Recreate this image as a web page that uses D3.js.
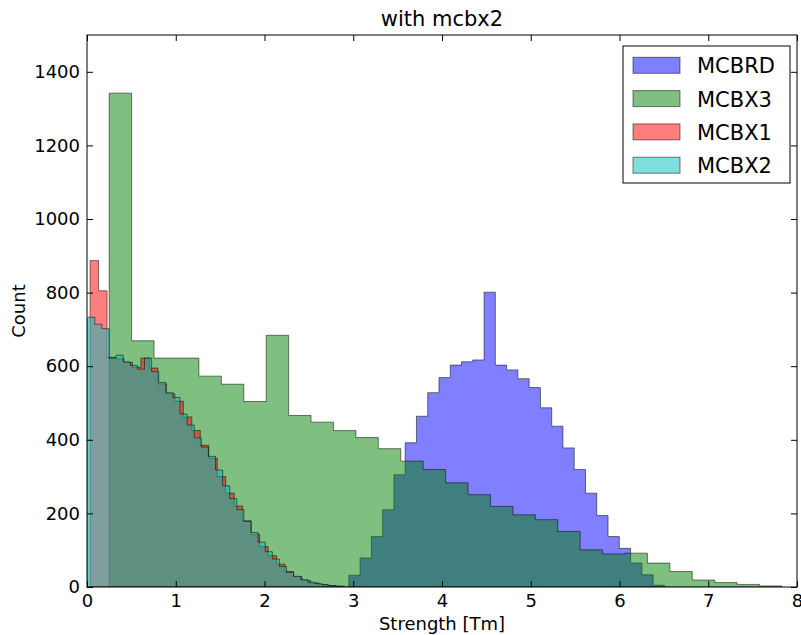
<!DOCTYPE html>
<html>
<head>
<meta charset="utf-8">
<script src="https://cdn.jsdelivr.net/npm/d3@7"></script>
<style>
  html, body { margin: 0; padding: 0; background: #fff; }
  svg { display: block; font-family: "DejaVu Sans", sans-serif; }
</style>
</head>
<body>
<svg id="chart" width="801" height="635"></svg>
<script>
// ---- data ----
const title = "with mcbx2";
const xLabel = "Strength [Tm]";
const yLabel = "Count";
const xTicks = [0, 1, 2, 3, 4, 5, 6, 7, 8];
const yTicks = [0, 200, 400, 600, 800, 1000, 1200, 1400];

const seriesNames = ["MCBRD", "MCBX3", "MCBX1", "MCBX2"];

// MCBRD
const mcbrdStart = 2.95, mcbrdWidth = 0.127;
const mcbrdCounts = [32, 79, 137, 210, 305, 392, 464, 528, 569, 603, 612, 617, 801, 603,
  590, 566, 542, 487, 437, 378, 319, 255, 194, 137, 105, 65, 33, 5];

// MCBX3
const mcbx3Start = 0.25, mcbx3Width = 0.2527;
const mcbx3Counts = [1342, 669, 622, 622, 573, 551, 504, 684, 466, 448, 425, 406, 376, 342,
  319, 283, 251, 219, 196, 183, 151, 101, 90, 92, 65, 42, 19, 12, 7, 3];

// MCBX1
const mcbx1Start = 0.035, mcbx1Width = 0.0955;
const mcbx1Counts = [887, 805, 624, 620, 610, 597, 622, 595, 552, 525, 505, 462, 425, 385,
  350, 300, 255, 220, 180, 143, 110, 85, 62, 42, 28, 18, 11, 7, 4, 2];

// MCBX2
const mcbx2Start = 0.008, mcbx2Width = 0.08;
const mcbx2Counts = [733, 714, 702, 622, 630, 612, 602, 592, 622, 585, 556, 528, 515, 470,
  440, 405, 380, 355, 318, 275, 240, 210, 178, 148, 122, 96, 76, 56, 40, 29, 20, 13, 9, 6, 4, 2];

// ---- build ----
const svg = d3.select("#chart");
const L = 87, R = 797, T = 35, B = 587;
const x = d3.scaleLinear().domain([0, 8]).range([L, R]);
const y = d3.scaleLinear().domain([0, 1500]).range([B, T]);

const hists = [
  { name: seriesNames[0], start: mcbrdStart, width: mcbrdWidth, counts: mcbrdCounts, color: "#0000ff" },
  { name: seriesNames[1], start: mcbx3Start, width: mcbx3Width, counts: mcbx3Counts, color: "#008000" },
  { name: seriesNames[2], start: mcbx1Start, width: mcbx1Width, counts: mcbx1Counts, color: "#ff0000" },
  { name: seriesNames[3], start: mcbx2Start, width: mcbx2Width, counts: mcbx2Counts, color: "#00bfbf" }
];

svg.append("defs").append("clipPath").attr("id", "clip")
  .append("rect").attr("x", L).attr("y", T).attr("width", R - L).attr("height", B - T);

const area = d3.area()
  .curve(d3.curveStepAfter)
  .x(d => x(d[0]))
  .y0(y(0))
  .y1(d => y(d[1]));

const g = svg.append("g").attr("clip-path", "url(#clip)");
hists.forEach(h => {
  const pts = h.counts.map((c, i) => [h.start + i * h.width, c]);
  pts.push([h.start + h.counts.length * h.width, h.counts[h.counts.length - 1]]);
  g.append("path")
    .attr("d", area(pts))
    .attr("fill", h.color)
    .attr("fill-opacity", 0.5)
    .attr("stroke", "#000")
    .attr("stroke-opacity", 0.5)
    .attr("stroke-width", 1);
});

// axes (ticks inward, matplotlib classic)
const tickLen = 6;
const fmt = d3.format("d");
const axL = svg.append("g").attr("transform", `translate(${L},0)`)
  .call(d3.axisLeft(y).tickValues(yTicks).tickFormat(fmt).tickSizeInner(-tickLen).tickSizeOuter(0).tickPadding(7));
const axB = svg.append("g").attr("transform", `translate(0,${B})`)
  .call(d3.axisBottom(x).tickValues(xTicks).tickFormat(fmt).tickSizeInner(-tickLen).tickSizeOuter(0).tickPadding(7));
const axR = svg.append("g").attr("transform", `translate(${R},0)`)
  .call(d3.axisRight(y).tickValues(yTicks).tickFormat("").tickSizeInner(-tickLen).tickSizeOuter(0));
const axT = svg.append("g").attr("transform", `translate(0,${T})`)
  .call(d3.axisTop(x).tickValues(xTicks).tickFormat("").tickSizeInner(-tickLen).tickSizeOuter(0));

[axL, axB, axR, axT].forEach(a => {
  a.select(".domain").remove();
  a.selectAll(".tick line").attr("stroke", "#000").attr("stroke-width", 1);
  a.selectAll(".tick text").attr("font-family", "DejaVu Sans").attr("font-size", 18).attr("fill", "#000");
});

// frame
svg.append("rect").attr("x", L).attr("y", T).attr("width", R - L).attr("height", B - T)
  .attr("fill", "none").attr("stroke", "#000").attr("stroke-width", 1);

// title & labels
svg.append("text").attr("x", (L + R) / 2).attr("y", 26).attr("text-anchor", "middle")
  .attr("font-size", 21).text(title);
svg.append("text").attr("x", (L + R) / 2).attr("y", 630).attr("text-anchor", "middle")
  .attr("font-size", 18).text(xLabel);
svg.append("text").attr("transform", `translate(25,${(T + B) / 2}) rotate(-90)`)
  .attr("text-anchor", "middle").attr("font-size", 18).text(yLabel);

// legend
const lg = svg.append("g");
lg.append("rect").attr("x", 623).attr("y", 46).attr("width", 167).attr("height", 137)
  .attr("fill", "#fff").attr("stroke", "#000").attr("stroke-width", 1);
hists.forEach((h, i) => {
  const cy = 65.3 + i * 33.3;
  lg.append("rect").attr("x", 633).attr("y", cy - 8).attr("width", 47).attr("height", 16)
    .attr("fill", h.color).attr("fill-opacity", 0.5)
    .attr("stroke", "#000").attr("stroke-opacity", 0.5);
  lg.append("text").attr("x", 697).attr("y", cy + 8).attr("font-size", 21).text(h.name);
});
</script>
</body>
</html>
